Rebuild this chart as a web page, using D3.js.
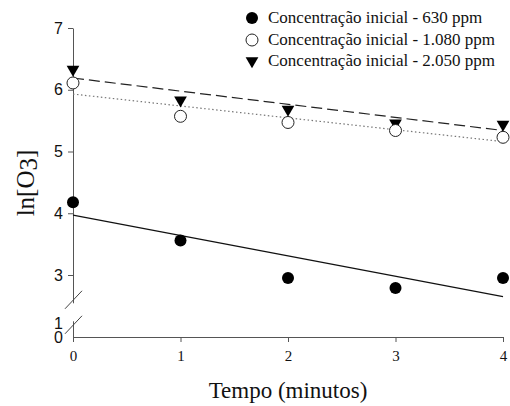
<!DOCTYPE html>
<html>
<head>
<meta charset="utf-8">
<script src="https://cdn.jsdelivr.net/npm/d3@7"></script>
<style>
  body { margin: 0; background: #fff; }
  svg { display: block; }
</style>
</head>
<body>
<div id="chart"></div>
<script>
// Données
const tempo = [0, 1, 2, 3, 4];
const serie630 = [4.18, 3.56, 2.95, 2.79, 2.95];
const serie1080 = [6.11, 5.57, 5.47, 5.34, 5.23];
const serie2050 = [6.33, 5.83, 5.68, 5.46, 5.44];

// Droites de régression (valeur à t=0 et t=4)
const fitTempo = [0, 4];
const fit630 = [3.97, 2.65];
const fit1080 = [5.93, 5.16];
const fit2050 = [6.19, 5.34];

const legendLabels = [
    'Concentração inicial - 630 ppm',
    'Concentração inicial - 1.080 ppm',
    'Concentração inicial - 2.050 ppm'
];
const xTicks = [0, 1, 2, 3, 4];
const yTicksUpper = [3, 4, 5, 6, 7];
const yTicksLower = [0, 1];

const WIDTH = 510;
const HEIGHT = 406;

const svg = d3.select('#chart').append('svg')
    .attr('width', WIDTH)
    .attr('height', HEIGHT);

// Échelles
const x = d3.scaleLinear().domain([0, 4]).range([73, 503]);
const yUp = d3.scaleLinear().domain([2.55, 7]).range([302.8, 28]);
const yLow = d3.scaleLinear().domain([0, 1.2]).range([337, 320.8]);

const serif = '"Liberation Serif", "Times New Roman", serif';
const sans = '"Liberation Sans", Arial, sans-serif';
const fmt = d3.format('d');

// Axe X
const gx = svg.append('g')
    .attr('transform', `translate(0,${yLow(0)})`)
    .call(d3.axisBottom(x).tickValues(xTicks).tickFormat(fmt)
        .tickSize(5).tickSizeOuter(0).tickPadding(8));
gx.selectAll('text').attr('font-family', serif).attr('font-size', 15).attr('fill', '#111');

// Axe Y (partie haute)
const gyUp = svg.append('g')
    .attr('transform', `translate(${x(0)},0)`)
    .call(d3.axisLeft(yUp).tickValues(yTicksUpper).tickFormat(fmt)
        .tickSize(5).tickSizeOuter(0).tickPadding(5));
gyUp.selectAll('text').attr('font-family', sans).attr('font-size', 16).attr('fill', '#111');

// Axe Y (partie basse)
const gyLow = svg.append('g')
    .attr('transform', `translate(${x(0)},0)`)
    .call(d3.axisLeft(yLow).tickValues(yTicksLower).tickFormat(fmt)
        .tickSize(0).tickSizeOuter(0).tickPadding(10));
gyLow.selectAll('text').attr('font-family', sans).attr('font-size', 16).attr('fill', '#111');

svg.selectAll('.domain, .tick line').attr('stroke', '#555');

// Marques de rupture
[yUp(2.55) - 3, yLow(1.2) + 4].forEach(cy => {
    svg.append('line')
        .attr('x1', x(0) - 8).attr('y1', cy + 9)
        .attr('x2', x(0) + 9).attr('y2', cy - 9)
        .attr('stroke', '#444').attr('stroke-width', 1);
});

// Droites de régression
const line = d3.line().x(d => x(d[0])).y(d => yUp(d[1]));
svg.append('path')
    .attr('d', line(d3.zip(fitTempo, fit630)))
    .attr('fill', 'none').attr('stroke', '#111').attr('stroke-width', 1.1);
svg.append('path')
    .attr('d', line(d3.zip(fitTempo, fit1080)))
    .attr('fill', 'none').attr('stroke', '#777').attr('stroke-width', 1.2)
    .attr('stroke-dasharray', '1.5,2.5');
svg.append('path')
    .attr('d', line(d3.zip(fitTempo, fit2050)))
    .attr('fill', 'none').attr('stroke', '#222').attr('stroke-width', 1.2)
    .attr('stroke-dasharray', '11,5');

// Symboles
const tri = d3.symbol().type(d3.symbolTriangle).size(70);

svg.append('g').selectAll('circle')
    .data(d3.zip(tempo, serie630))
    .join('circle')
    .attr('cx', d => x(d[0])).attr('cy', d => yUp(d[1]))
    .attr('r', 6).attr('fill', '#000');

svg.append('g').selectAll('path')
    .data(d3.zip(tempo, serie2050))
    .join('path')
    .attr('d', tri)
    .attr('transform', d => `translate(${x(d[0])},${yUp(d[1])}) rotate(180)`)
    .attr('fill', '#000');

svg.append('g').selectAll('circle')
    .data(d3.zip(tempo, serie1080))
    .join('circle')
    .attr('cx', d => x(d[0])).attr('cy', d => yUp(d[1]))
    .attr('r', 6).attr('fill', '#fff').attr('stroke', '#222').attr('stroke-width', 1);

// Légende
const legend = svg.append('g');
const legendY = [18, 40, 61];
legendLabels.forEach((label, i) => {
    const cy = legendY[i];
    if (i === 0) {
        legend.append('circle').attr('cx', 252).attr('cy', cy).attr('r', 6).attr('fill', '#000');
    } else if (i === 1) {
        legend.append('circle').attr('cx', 252).attr('cy', cy).attr('r', 6)
            .attr('fill', '#fff').attr('stroke', '#222');
    } else {
        legend.append('path').attr('d', tri)
            .attr('transform', `translate(252,${cy}) rotate(180)`).attr('fill', '#000');
    }
    legend.append('text')
        .attr('x', 268).attr('y', cy + 5)
        .attr('font-family', serif).attr('font-size', 17).attr('fill', '#111')
        .text(label);
});

// Titres des axes
svg.append('text')
    .attr('x', 288).attr('y', 398)
    .attr('text-anchor', 'middle')
    .attr('font-family', serif).attr('font-size', 23).attr('fill', '#111')
    .text('Tempo (minutos)');

const yTitle = svg.append('text')
    .attr('transform', 'translate(34,183) rotate(-90)')
    .attr('text-anchor', 'middle')
    .attr('font-family', serif).attr('font-size', 25).attr('fill', '#111');
yTitle.append('tspan').text('ln[O');
yTitle.append('tspan').attr('dy', 3).text('3');
yTitle.append('tspan').attr('dy', -3).text(']');
</script>
</body>
</html>
